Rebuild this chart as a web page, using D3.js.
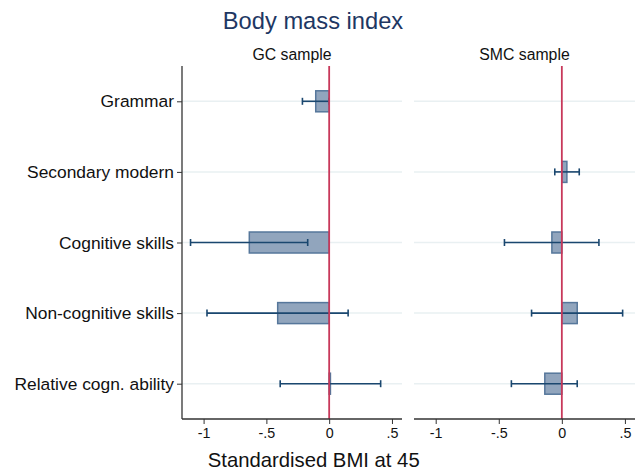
<!DOCTYPE html>
<html>
<head>
<meta charset="utf-8">
<script src="https://cdn.jsdelivr.net/npm/d3@7"></script>
<style>
  html, body { margin: 0; padding: 0; background: #fff; }
  svg { display: block; font-family: "Liberation Sans", Arial, Helvetica, sans-serif; }
</style>
</head>
<body>
<svg id="chart" width="636" height="475"></svg>
<script>
// Outcome rows
const categories = ["Grammar", "Secondary modern", "Cognitive skills", "Non-cognitive skills", "Relative cogn. ability"];

// GC sample: point estimates and 95% confidence bounds (null = not estimated)
const gcEst = [-0.107, null, -0.636, -0.41, 0.01];
const gcLo  = [-0.213, null, -1.104, -0.973, -0.39];
const gcHi  = [0.0,    null, -0.171, 0.151, 0.41];

// SMC sample
const smcEst = [null, 0.04, -0.079, 0.122, -0.135];
const smcLo  = [null, -0.056, -0.455, -0.24, -0.40];
const smcHi  = [null, 0.138, 0.294, 0.482, 0.122];

const xTickValues = [-1, -0.5, 0, 0.5];
const xTickLabels = ["-1", "-.5", "0", ".5"];

const panels = [
  { title: "GC sample",  est: gcEst,  lo: gcLo,  hi: gcHi,  x0: 182, x1: 402, yAxis: true },
  { title: "SMC sample", est: smcEst, lo: smcLo, hi: smcHi, x0: 414, x1: 635, yAxis: false }
];

const svg = d3.select("#chart");
const plotTop = 66, plotBottom = 419;
const navy = "#1a476f";
const barFill = "#91a5bd";
const barStroke = "#56779b";
const refRed = "#c8385a";

const y = d3.scalePoint().domain(categories).range([plotTop, plotBottom]).padding(0.5);
const barH = 21;

svg.append("text")
  .attr("x", 313).attr("y", 29)
  .attr("text-anchor", "middle")
  .attr("font-size", 23.7)
  .attr("fill", "#1e3763")
  .text("Body mass index");

panels.forEach(p => {
  const x = d3.scaleLinear().domain([-1.172, 0.58]).range([p.x0, p.x1]);
  const g = svg.append("g");

  // panel subtitle
  g.append("text")
    .attr("x", (p.x0 + p.x1) / 2).attr("y", 60)
    .attr("text-anchor", "middle")
    .attr("font-size", 15.8)
    .attr("fill", "#111")
    .text(p.title);

  // horizontal grid lines
  g.selectAll("line.grid").data(categories).enter().append("line")
    .attr("class", "grid")
    .attr("x1", p.x0).attr("x2", p.x1)
    .attr("y1", d => y(d)).attr("y2", d => y(d))
    .attr("stroke", "#e9f0f2").attr("stroke-width", 1.5);

  const rows = categories.map((c, i) => ({ c, est: p.est[i], lo: p.lo[i], hi: p.hi[i] }))
    .filter(d => d.est !== null);

  // bars from zero to the estimate
  g.selectAll("rect.bar").data(rows).enter().append("rect")
    .attr("class", "bar")
    .attr("x", d => Math.min(x(0), x(d.est)))
    .attr("width", d => Math.abs(x(d.est) - x(0)))
    .attr("y", d => y(d.c) - barH / 2)
    .attr("height", barH)
    .attr("fill", barFill)
    .attr("stroke", barStroke)
    .attr("stroke-width", 1.5);

  // confidence intervals
  const ci = g.selectAll("g.ci").data(rows).enter().append("g").attr("class", "ci")
    .attr("stroke", navy).attr("stroke-width", 1.6);
  ci.append("line")
    .attr("x1", d => x(d.lo)).attr("x2", d => x(d.hi))
    .attr("y1", d => y(d.c)).attr("y2", d => y(d.c));
  ci.append("line")
    .attr("x1", d => x(d.lo)).attr("x2", d => x(d.lo))
    .attr("y1", d => y(d.c) - 3.5).attr("y2", d => y(d.c) + 3.5);
  ci.append("line")
    .attr("x1", d => x(d.hi)).attr("x2", d => x(d.hi))
    .attr("y1", d => y(d.c) - 3.5).attr("y2", d => y(d.c) + 3.5);

  // reference line at zero
  g.append("line")
    .attr("x1", x(0)).attr("x2", x(0))
    .attr("y1", plotTop).attr("y2", plotBottom)
    .attr("stroke", refRed).attr("stroke-width", 1.8);

  // x axis
  const xAxis = d3.axisBottom(x)
    .tickValues(xTickValues)
    .tickFormat((d, i) => xTickLabels[i])
    .tickSize(5).tickPadding(4);
  const gx = g.append("g").attr("transform", `translate(0,${plotBottom})`).call(xAxis);
  gx.select(".domain").attr("d", `M${p.x0},0H${p.x1}`).attr("stroke", "#333").attr("stroke-width", 1.3);
  gx.selectAll(".tick line").attr("stroke", "#333");
  gx.selectAll(".tick text").attr("font-size", 14.3).attr("fill", "#111")
    .attr("font-family", "Liberation Sans, Arial, sans-serif");

  if (p.yAxis) {
    const yAxis = d3.axisLeft(y).tickSize(5).tickPadding(3);
    const gy = g.append("g").attr("transform", `translate(${p.x0},0)`).call(yAxis);
    gy.select(".domain").attr("d", `M0,${plotTop}V${plotBottom}`).attr("stroke", "#333").attr("stroke-width", 1.3);
    gy.selectAll(".tick line").attr("stroke", "#333");
    gy.selectAll(".tick text").attr("font-size", 17.4).attr("fill", "#111")
      .attr("font-family", "Liberation Sans, Arial, sans-serif");
  }
});

svg.append("text")
  .attr("x", 313.7).attr("y", 467)
  .attr("text-anchor", "middle")
  .attr("font-size", 20.3)
  .attr("fill", "#111")
  .text("Standardised BMI at 45");
</script>
</body>
</html>
